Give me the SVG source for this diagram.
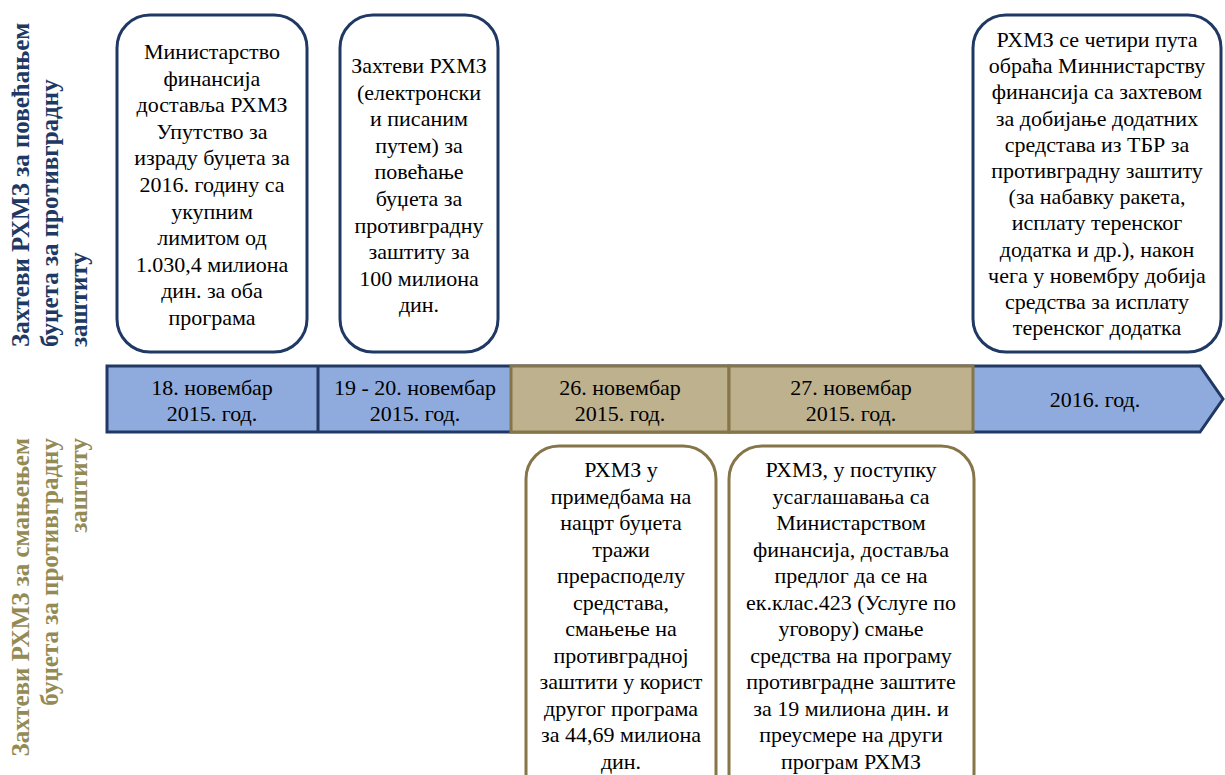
<svg xmlns="http://www.w3.org/2000/svg" width="1225" height="775" viewBox="0 0 1225 775">
<style>
.t{font-family:"Liberation Serif","Times New Roman",serif;font-size:22px;fill:#000;text-anchor:middle}
.lb{font-family:"Liberation Serif","Times New Roman",serif;font-size:25px;font-weight:bold}
.nb{fill:#fff;stroke:#203864;stroke-width:3}
.tb{fill:#fff;stroke:#857548;stroke-width:3}
.bs{fill:#8faadc;stroke:#203864;stroke-width:3}
.ts{fill:#bdb18e;stroke:#857548;stroke-width:3}
</style>
<rect width="1225" height="775" fill="#fff"/>

<g id="label-top">
<text class="lb" fill="#203864" transform="translate(29,347) rotate(-90)">Захтеви РХМЗ за повећањем</text>
<text class="lb" fill="#203864" transform="translate(58,347) rotate(-90)">буџета за противградну</text>
<text class="lb" fill="#203864" transform="translate(87,347) rotate(-90)">заштиту</text>
</g>
<g id="label-bottom">
<text class="lb" fill="#948a54" text-anchor="end" transform="translate(29,438) rotate(-90)">Захтеви РХМЗ за смањењем</text>
<text class="lb" fill="#948a54" text-anchor="end" transform="translate(58,438) rotate(-90)">буџета за противградну</text>
<text class="lb" fill="#948a54" text-anchor="end" transform="translate(87,438) rotate(-90)">заштиту</text>
</g>

<g id="timeline">
<path class="bs" d="M107,366 L1200,366 L1223,399 L1200,432 L107,432 Z"/>
<line x1="318" y1="366" x2="318" y2="432" stroke="#203864" stroke-width="3"/>
<rect class="ts" x="511" y="366" width="218" height="66"/>
<rect class="ts" x="729" y="366" width="244" height="66"/>
</g>

<g id="seg1"><text class="t" x="212" y="395">18. новембар</text><text class="t" x="212" y="421">2015. год.</text></g>
<g id="seg2"><text class="t" x="415" y="395">19 - 20. новембар</text><text class="t" x="415" y="421">2015. год.</text></g>
<g id="seg3"><text class="t" x="620" y="395">26. новембар</text><text class="t" x="620" y="421">2015. год.</text></g>
<g id="seg4"><text class="t" x="851" y="395">27. новембар</text><text class="t" x="851" y="421">2015. год.</text></g>
<g id="seg5"><text class="t" x="1095" y="407">2016. год.</text></g>

<g id="box1">
<rect class="nb" x="117" y="15" width="190" height="337" rx="33"/>
<text class="t" x="212" y="59">Министарство</text>
<text class="t" x="212" y="85.6">финансија</text>
<text class="t" x="212" y="112.2">доставља РХМЗ</text>
<text class="t" x="212" y="138.8">Упутство за</text>
<text class="t" x="212" y="165.4">израду буџета за</text>
<text class="t" x="212" y="192">2016. годину са</text>
<text class="t" x="212" y="218.6">укупним</text>
<text class="t" x="212" y="245.2">лимитом од</text>
<text class="t" x="212" y="271.8">1.030,4 милиона</text>
<text class="t" x="212" y="298.4">дин. за оба</text>
<text class="t" x="212" y="325">програма</text>
</g>

<g id="box2">
<rect class="nb" x="340" y="15" width="158" height="337" rx="33"/>
<text class="t" x="419" y="73">Захтеви РХМЗ</text>
<text class="t" x="419" y="99.6">(електронски</text>
<text class="t" x="419" y="126.2">и писаним</text>
<text class="t" x="419" y="152.8">путем) за</text>
<text class="t" x="419" y="179.4">повећање</text>
<text class="t" x="419" y="206">буџета за</text>
<text class="t" x="419" y="232.6">противградну</text>
<text class="t" x="419" y="259.2">заштиту за</text>
<text class="t" x="419" y="285.8">100 милиона</text>
<text class="t" x="419" y="312.4">дин.</text>
</g>

<g id="box3">
<rect class="nb" x="973" y="15" width="248" height="337" rx="33"/>
<text class="t" x="1097" y="47">РХМЗ се четири пута</text>
<text class="t" x="1097" y="73.2">обраћа Миннистарству</text>
<text class="t" x="1097" y="99.4">финансија са захтевом</text>
<text class="t" x="1097" y="125.6">за добијање додатних</text>
<text class="t" x="1097" y="151.8">средстава из ТБР за</text>
<text class="t" x="1097" y="178">противградну заштиту</text>
<text class="t" x="1097" y="204.2">(за набавку ракета,</text>
<text class="t" x="1097" y="230.4">исплату теренског</text>
<text class="t" x="1097" y="256.6">додатка и др.), након</text>
<text class="t" x="1097" y="282.8">чега у новембру добија</text>
<text class="t" x="1097" y="309">средства за исплату</text>
<text class="t" x="1097" y="335.2">теренског додатка</text>
</g>

<g id="box4">
<rect class="tb" x="526" y="446" width="190" height="360" rx="33"/>
<text class="t" x="621" y="477">РХМЗ у</text>
<text class="t" x="621" y="503.5">примедбама на</text>
<text class="t" x="621" y="530">нацрт буџета</text>
<text class="t" x="621" y="556.5">тражи</text>
<text class="t" x="621" y="583">прерасподелу</text>
<text class="t" x="621" y="609.5">средстава,</text>
<text class="t" x="621" y="636">смањење на</text>
<text class="t" x="621" y="662.5">противградној</text>
<text class="t" x="621" y="689">заштити у корист</text>
<text class="t" x="621" y="715.5">другог програма</text>
<text class="t" x="621" y="742">за 44,69 милиона</text>
<text class="t" x="621" y="768.5">дин.</text>
</g>

<g id="box5">
<rect class="tb" x="729" y="446" width="245" height="360" rx="33"/>
<text class="t" x="851" y="477">РХМЗ, у поступку</text>
<text class="t" x="851" y="503.5">усаглашавања са</text>
<text class="t" x="851" y="530">Министарством</text>
<text class="t" x="851" y="556.5">финансија, доставља</text>
<text class="t" x="851" y="583">предлог да се на</text>
<text class="t" x="851" y="609.5">ек.клас.423 (Услуге по</text>
<text class="t" x="851" y="636">уговору) смање</text>
<text class="t" x="851" y="662.5">средства на програму</text>
<text class="t" x="851" y="689">противградне заштите</text>
<text class="t" x="851" y="715.5">за 19 милиона дин. и</text>
<text class="t" x="851" y="742">преусмере на други</text>
<text class="t" x="851" y="768.5">програм РХМЗ</text>
</g>
</svg>
